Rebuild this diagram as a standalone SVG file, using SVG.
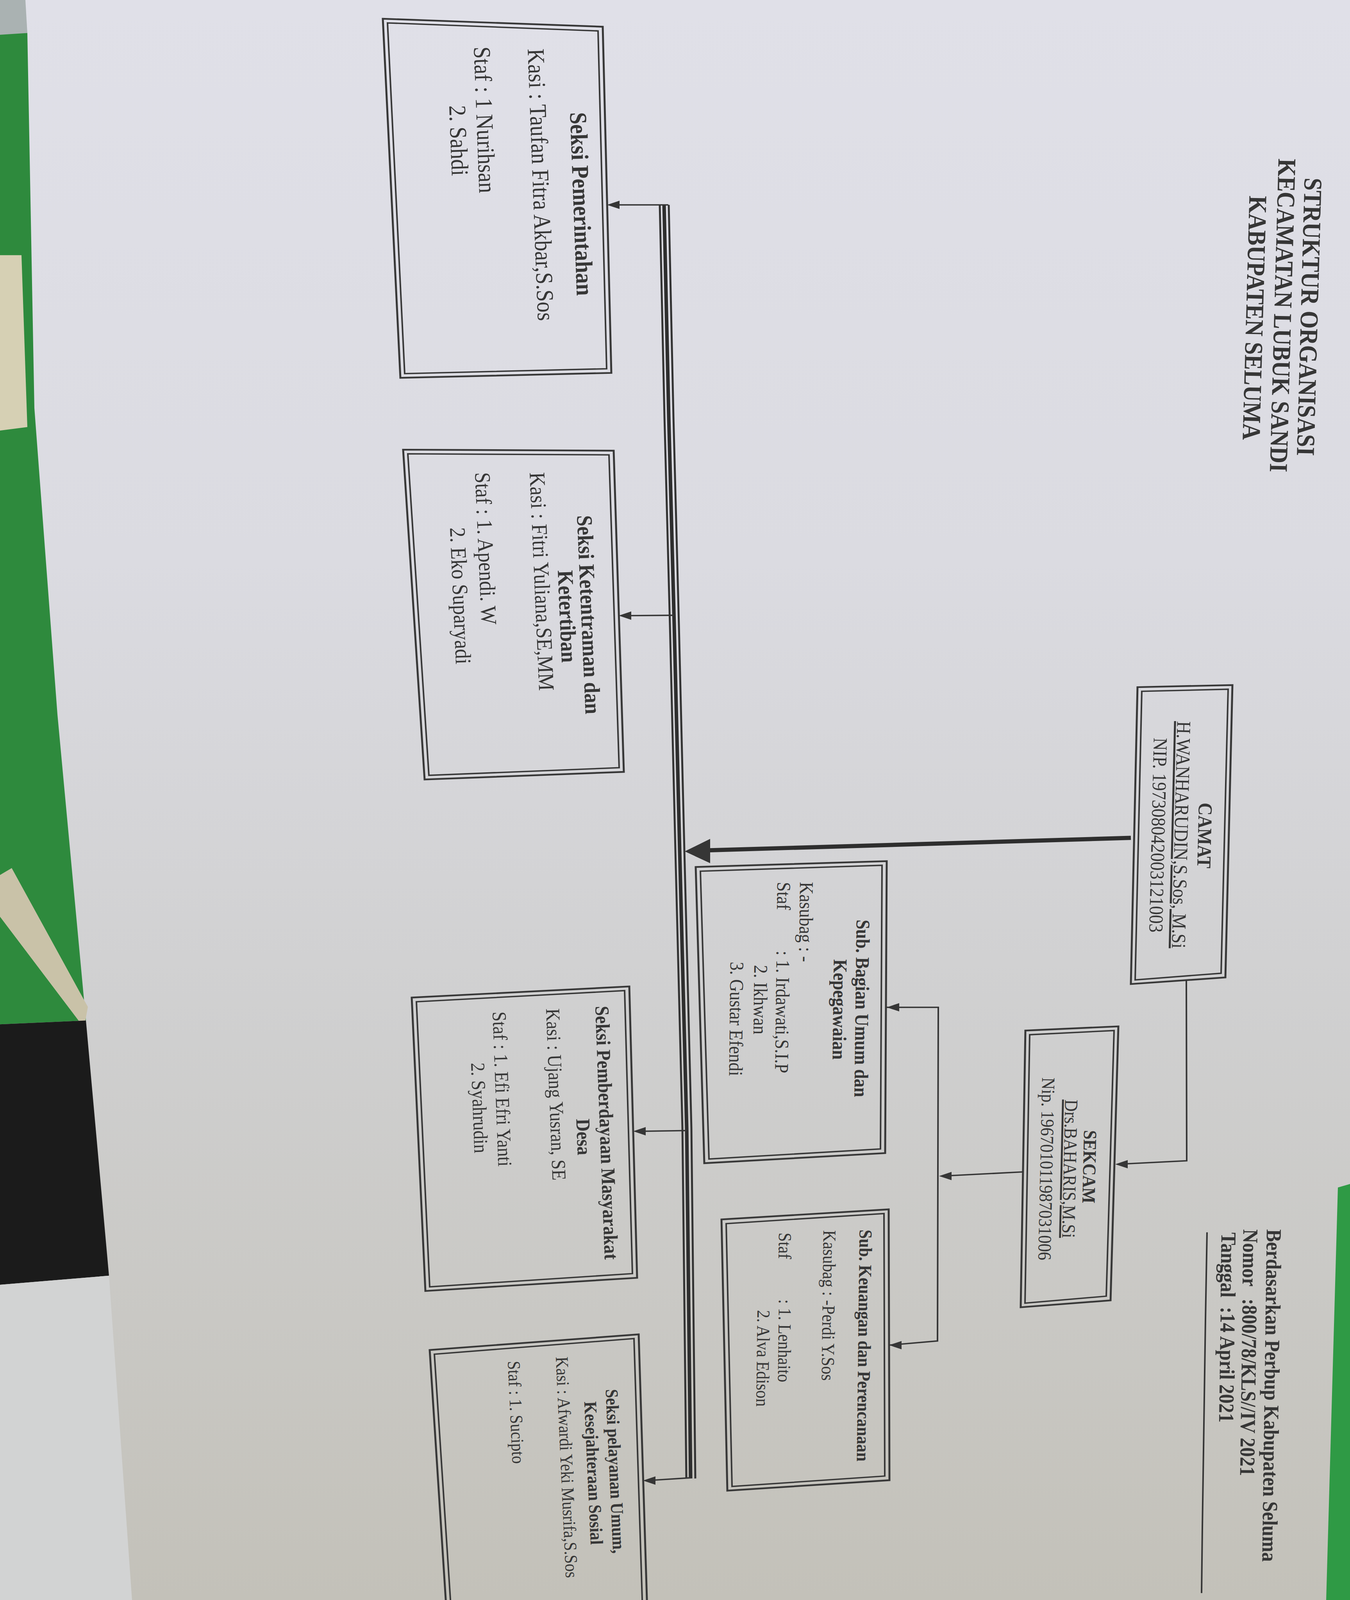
<svg xmlns="http://www.w3.org/2000/svg" width="3456" height="4608" viewBox="0 0 3456 4608">
<defs>
<linearGradient id="paper" x1="0" y1="0" x2="0" y2="1">
<stop offset="0" stop-color="#e0e0e8"/>
<stop offset="0.35" stop-color="#dbdbe1"/>
<stop offset="0.65" stop-color="#cfcfcf"/>
<stop offset="1" stop-color="#c3c1b9"/>
</linearGradient>
<style>
.bo{fill:none;stroke:#383838;stroke-width:5}
.bi{fill:none;stroke:#383838;stroke-width:4}
.t{font-family:"Liberation Serif","Times New Roman",serif;fill:#363636}
.b{font-weight:bold}
.u{text-decoration:underline}
.c{fill:none;stroke:#363636;stroke-width:4}
.ah{fill:#363636}
</style>
</defs>
<rect x="0" y="0" width="3456" height="4608" fill="#c3c1b9"/>
<g transform="scale(1,0.888889)">
<g id="background">
<rect x="0" y="0" width="3456" height="4608" fill="url(#paper)"/>
<polygon points="0,0 65,0 70,95 0,105" fill="#aab2b2"/>
<polygon points="0,100 70,95 88,1175 147,2057 220,2939 0,2950" fill="#2e8a3d"/>
<polygon points="0,735 55,735 70,1230 0,1240" fill="#d6d0b4"/>
<polygon points="0,2520 30,2500 225,2900 215,2960 0,2640" fill="#c9c2a8"/>
<polygon points="0,2950 220,2939 279,3674 0,3700" fill="#1b1b1b"/>
<polygon points="0,3700 279,3674 338,4608 0,4608" fill="#d2d3d3"/>
<polygon points="3425,3420 3456,3410 3456,4608 3395,4608" fill="#2f9a45"/>
</g>
<g id="title">
<text class="t b" font-size="66" text-anchor="middle" transform="translate(3330,912) rotate(91.4)">STRUKTUR ORGANISASI</text>
<text class="t b" font-size="66" text-anchor="middle" transform="translate(3262,908) rotate(91.4)">KECAMATAN LUBUK SANDI</text>
<text class="t b" font-size="66" text-anchor="middle" transform="translate(3190,915) rotate(91.4)">KABUPATEN SELUMA</text>
</g>
<g id="reference">
<text class="t b" font-size="55" transform="translate(3243,3540) rotate(90.7)">Berdasarkan Perbup Kabupaten Seluma</text>
<text class="t b" font-size="55" transform="translate(3183,3540) rotate(90.7)">Nomor</text>
<text class="t b" font-size="55" transform="translate(3181,3740) rotate(90.7)">:800/78/KLS//IV 2021</text>
<text class="t b" font-size="55" transform="translate(3127,3549) rotate(90.7)">Tanggal</text>
<text class="t b" font-size="55" transform="translate(3125,3764) rotate(90.7)">:14 April 2021</text>
<polyline class="c" points="3090,3549 3086,3800 3082,4100 3078,4400 3076,4588"/>
</g>
<g id="camat">
<polygon class="bo" points="2912,1979 3155,1973 3137,2815 2895,2834"/>
<polygon class="bi" points="2923,1991 3144,1985 3126,2803 2906,2822"/>
<text class="t b" font-size="51" text-anchor="middle" transform="translate(3067,2406) rotate(91.2)">CAMAT</text>
<text class="t u" font-size="51" text-anchor="middle" transform="translate(3007,2404) rotate(91.2)">H.WANHARUDIN,S.Sos, M.Si</text>
<text class="t" font-size="51" text-anchor="middle" transform="translate(2948,2405) rotate(91.2)">NIP. 197308042003121003</text>
</g>
<g id="sekcam">
<polygon class="bo" points="2625,2968 2863,2956 2843,3745 2613,3765"/>
<polygon class="bi" points="2636,2980 2852,2968 2832,3733 2624,3753"/>
<text class="t b" font-size="48" text-anchor="middle" transform="translate(2773,3360) rotate(91.1)">SEKCAM</text>
<text class="t u" font-size="48" text-anchor="middle" transform="translate(2723,3366) rotate(91.1)">Drs.BAHARIS,M.Si</text>
<text class="t" font-size="48" text-anchor="middle" transform="translate(2663,3366) rotate(91.1)">Nip. 196701011987031006</text>
</g>
<g id="sub-umum">
<polygon class="bo" points="1781,2497 2270,2480 2266,3321 1803,3350"/>
<polygon class="bi" points="1793,2509 2258,2492 2254,3309 1815,3338"/>
<text class="t b" font-size="50" text-anchor="middle" transform="translate(2190,2904) rotate(90.6)">Sub. Bagian Umum dan</text>
<text class="t b" font-size="50" text-anchor="middle" transform="translate(2133,2907) rotate(90.6)">Kepegawaian</text>
<text class="t" font-size="50" transform="translate(2048,2540) rotate(90.6)">Kasubag : -</text>
<text class="t" font-size="50" transform="translate(1990,2540) rotate(90.6)">Staf</text>
<text class="t" font-size="50" transform="translate(1988,2738) rotate(90.6)">: 1. Irdawati,S.I.P</text>
<text class="t" font-size="50" transform="translate(1931,2779) rotate(90.6)">2. Ikhwan</text>
<text class="t" font-size="50" transform="translate(1870,2770) rotate(90.6)">3. Gustar Efendi</text>
</g>
<g id="sub-keuangan">
<polygon class="bo" points="1847,3512 2275,3483 2277,4263 1862,4293"/>
<polygon class="bi" points="1859,3524 2263,3495 2265,4251 1874,4281"/>
<text class="t b" font-size="47" text-anchor="middle" transform="translate(2197,3875) rotate(90.6)">Sub. Keuangan dan Perencanaan</text>
<text class="t" font-size="47" transform="translate(2108,3543) rotate(90.6)">Kasubag : -Perdi Y.Sos</text>
<text class="t" font-size="47" transform="translate(1994,3550) rotate(90.6)">Staf</text>
<text class="t" font-size="47" transform="translate(1994,3742) rotate(90.6)">: 1. Lenhaito</text>
<text class="t" font-size="47" transform="translate(1939,3773) rotate(90.6)">2. Alva Edison</text>
</g>
<g id="seksi-pemerintahan">
<polygon class="bo" points="980,54 1543,77 1565,1074 1025,1088"/>
<polygon class="bi" points="992,66 1531,89 1553,1062 1036,1076"/>
<text class="t b" font-size="62" text-anchor="middle" transform="translate(1468,588) rotate(88.1)">Seksi Pemerintahan</text>
<text class="t" font-size="62" transform="translate(1351,141) rotate(88.1)">Kasi : Taufan Fitra Akbar,S.Sos</text>
<text class="t" font-size="62" transform="translate(1213,135) rotate(88.1)">Staf : 1 Nurihsan</text>
<text class="t" font-size="62" transform="translate(1150,304) rotate(88.1)">2. Sahdi</text>
</g>
<g id="seksi-ketentraman">
<polygon class="bo" points="1032,1295 1571,1298 1597,2223 1087,2245"/>
<polygon class="bi" points="1044,1307 1559,1310 1585,2211 1098,2233"/>
<text class="t b" font-size="57" text-anchor="middle" transform="translate(1488,1771) rotate(87.8)">Seksi Ketentraman dan</text>
<text class="t b" font-size="57" text-anchor="middle" transform="translate(1433,1776) rotate(87.8)">Ketertiban</text>
<text class="t" font-size="57" transform="translate(1356,1361) rotate(87.8)">Kasi : Fitri Yuliana,SE,MM</text>
<text class="t" font-size="57" transform="translate(1216,1361) rotate(87.8)">Staf : 1. Apendi. W</text>
<text class="t" font-size="57" transform="translate(1152,1520) rotate(87.8)">2. Eko Suparyadi</text>
</g>
<g id="seksi-pemberdayaan">
<polygon class="bo" points="1054,2873 1611,2841 1631,3680 1089,3718"/>
<polygon class="bi" points="1066,2885 1599,2853 1619,3668 1100,3706"/>
<text class="t b" font-size="51" text-anchor="middle" transform="translate(1536,3263) rotate(88.1)">Seksi Pemberdayaan Masyarakat</text>
<text class="t b" font-size="51" text-anchor="middle" transform="translate(1477,3275) rotate(88.1)">Desa</text>
<text class="t" font-size="51" transform="translate(1398,2905) rotate(88.1)">Kasi : Ujang Yusran, SE</text>
<text class="t" font-size="51" transform="translate(1261,2914) rotate(88.1)">Staf : 1. Efi Efri Yanti</text>
<text class="t" font-size="51" transform="translate(1206,3061) rotate(88.1)">2. Syahrudin</text>
</g>
<g id="seksi-pelayanan">
<polygon class="bo" points="1100,3888 1635,3843 1657,4640 1143,4640"/>
<polygon class="bi" points="1112,3900 1623,3855 1645,4640 1155,4640"/>
<text class="t b" font-size="46" text-anchor="middle" transform="translate(1560,4238) rotate(87.7)">Seksi pelayanan Umum,</text>
<text class="t b" font-size="46" text-anchor="middle" transform="translate(1504,4243) rotate(87.7)">Kesejahteraan Sosial</text>
<text class="t" font-size="46" transform="translate(1423,3908) rotate(87.7)">Kasi : Afwardi Yeki Musrifa,S.Sos</text>
<text class="t" font-size="46" transform="translate(1300,3920) rotate(87.7)">Staf : 1. Sucipto</text>
</g>
<g id="connectors">
<polyline fill="none" stroke="#333" stroke-width="5" points="1689,590 1701,1200 1715,1800 1729,2450 1747,3250 1757,4258"/>
<polyline fill="none" stroke="#2e2e2e" stroke-width="9" points="1700,590 1712,1200 1726,1800 1740,2450 1758,3250 1768,4258"/>
<polyline fill="none" stroke="#333" stroke-width="5" points="1712,590 1724,1200 1738,1800 1752,2450 1770,3250 1780,4258"/>
<polyline fill="none" stroke="#2e2e2e" stroke-width="12" points="2895,2413 1810,2449"/>
<polygon class="ah" points="1753,2452 1818,2416 1818,2486"/>
<polyline class="c" points="1711,590 1580,590"/>
<polygon class="ah" points="1554,590 1586,578 1586,602"/>
<polyline class="c" points="1726,1772 1610,1773"/>
<polygon class="ah" points="1584,1773 1616,1761 1616,1785"/>
<polyline class="c" points="1758,3256 1647,3258"/>
<polygon class="ah" points="1621,3258 1653,3246 1653,3270"/>
<polyline class="c" points="1768,4256 1672,4263"/>
<polygon class="ah" points="1646,4264 1678,4252 1678,4276"/>
<polyline class="c" points="3037,2822 3038,3343 2880,3352"/>
<polygon class="ah" points="2855,3353 2887,3341 2887,3365"/>
<polyline class="c" points="2620,3375 2430,3386"/>
<polygon class="ah" points="2404,3387 2436,3375 2436,3399"/>
<polyline class="c" points="2270,2901 2402,2901 2400,3862 2276,3874"/>
<polygon class="ah" points="2270,2901 2302,2889 2302,2913"/>
<polygon class="ah" points="2276,3874 2308,3862 2308,3886"/>
</g>
</g>
</svg>
